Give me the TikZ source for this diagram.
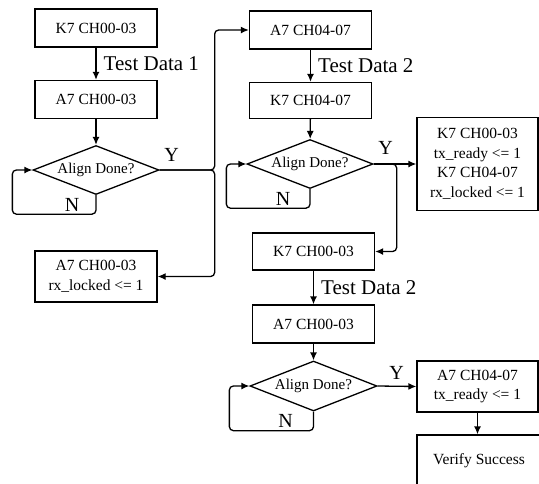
\documentclass[tikz,border=0pt]{standalone}
\usepackage{fontspec}
\setmainfont{Liberation Serif}
\usetikzlibrary{shapes.geometric,arrows.meta}

\tikzset{
  blk/.style={draw, line width=1.3pt, minimum width=122pt, minimum height=38pt,
    inner sep=2pt, align=center, font=\fontsize{15.5}{19.5}\selectfont},
  decide/.style={draw, diamond, line width=1.3pt, aspect=2.5, inner sep=0pt,
    minimum width=126pt, minimum height=49pt, font=\fontsize{15}{17}\selectfont},
  lbl/.style={font=\fontsize{20}{24}\selectfont, inner sep=0pt},
  tdlbl/.style={font=\fontsize{21}{24}\selectfont, inner sep=0pt},
}

\begin{document}
\begin{tikzpicture}[x=1pt,y=-1pt,>={Latex[length=8pt,width=7pt]},line width=1.3pt]
   \useasboundingbox (0,0) rectangle (539,483);
   % left column
   \node[blk] (b1) at (96,28) {K7 CH00-03};
   \node[blk] (b2) at (96,99.5) {A7 CH00-03};
   \node[decide] (d1) at (96,170) {Align Done?};
   \node[blk, minimum height=51pt] (b4) at (96,276.5) {A7 CH00-03\\rx\_locked <= 1};
   % middle column
   \node[blk] (b3) at (310.5,30) {A7 CH04-07};
   \node[blk, minimum height=36pt] (b5) at (310.5,100.5) {K7 CH04-07};
   \node[decide] (d2) at (310,164) {Align Done?};
   \node[blk, minimum height=37pt] (b7) at (313.5,251.5) {K7 CH00-03};
   \node[blk] (b8) at (313.5,324) {A7 CH00-03};
   \node[decide, minimum width=127pt, minimum height=50pt] (d3) at (313.5,386) {Align Done?};
   % right column
   \node[blk, minimum width=121pt, minimum height=93pt] (b6) at (477.5,164) {K7 CH00-03\\tx\_ready <= 1\\K7 CH04-07\\rx\_locked <= 1};
   \node[blk, minimum width=121pt, minimum height=51pt] (b9) at (477.5,386.5) {A7 CH04-07\\tx\_ready <= 1};
   \node[blk, minimum width=124pt, minimum height=52pt] (b10) at (479,461) {Verify Success};

   \draw[->] (b1) -- node[tdlbl,right=7pt] {Test Data 1} (b2);
   \draw[->] (b2) -- (d1);
   \draw[->,rounded corners=4pt] (d1.south) -- node[lbl,left=16pt] {N} ++(0,19) -| ([xshift=-20pt]d1.west) -- (d1.west);
   \draw[->,rounded corners=4pt] (d1.east) -- ++(55,0) |- (b3.west);
   \draw[->,rounded corners=4pt] (d1.east) -- ++(55,0) |- (b4.east);
   \node[lbl,anchor=south west] (y1) at ([xshift=4pt,yshift=8pt]d1.east) {Y};

   \draw[->] (b3) -- node[tdlbl,right=7pt] {Test Data 2} (b5);
   \draw[->] (b5) -- (d2);
   \draw[->,rounded corners=4pt] (d2.south) -- node[lbl,left=19pt] {N} ++(0,19) -| ([xshift=-20pt]d2.west) -- (d2.west);
   \draw[->] (d2.east) -- (b6.west);
   \draw[->,rounded corners=4pt] (d2.east) -- ++(23,0) |- (b7.east);
   \node[lbl,anchor=south west] (y2) at ([xshift=4pt,yshift=9pt]d2.east) {Y};

   \draw[->] (b7) -- node[tdlbl,right=7pt] {Test Data 2} (b8);
   \draw[->] (b8) -- (d3);
   \draw[->,rounded corners=4pt] (d3.south) -- node[lbl,left=20pt] {N} ++(0,19) -| ([xshift=-20pt]d3.west) -- (d3.west);
   \draw[->] (d3.east) -- (b9.west);
   \node[lbl,anchor=south west] (y3) at ([xshift=11pt,yshift=6pt]d3.east) {Y};
   \draw[->] (b9.south) -- (b9.south |- b10.north);
\end{tikzpicture}
\end{document}
